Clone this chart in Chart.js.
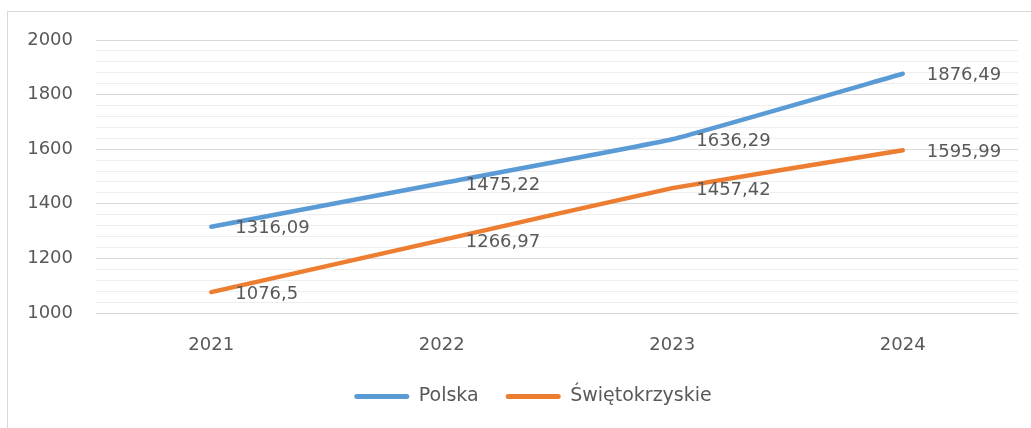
<!DOCTYPE html>
<html>
<head>
<meta charset="utf-8">
<script src="https://cdn.jsdelivr.net/npm/chart.js@4/dist/chart.umd.min.js"></script>
<style>
  html, body { margin: 0; padding: 0; background: #ffffff; overflow: hidden; width: 1031px; height: 428px; }
  #frame { position: absolute; left: 7px; top: 11px; width: 1040px; height: 440px; border: 1px solid #d9d9d9; }
  #wrap { position: absolute; left: 0; top: 0; width: 1023px; height: 416px; }
</style>
</head>
<body>
<div id="frame"><div id="wrap"><canvas id="c"></canvas></div></div>
<script>
const categories = ['2021', '2022', '2023', '2024'];
const polska = [1316.09, 1475.22, 1636.29, 1876.49];
const swietokrzyskie = [1076.5, 1266.97, 1457.42, 1595.99];
const seriesNames = ['Polska', 'Świętokrzyskie'];
const yMin = 1000, yMax = 2000, yMajor = 200, yMinor = 40;

const FONT = 'DejaVu Sans';
const TEXT = '#595959';

const valueLabels = {
  id: 'valueLabels',
  afterDatasetsDraw(chart) {
    const ctx = chart.ctx;
    ctx.save();
    ctx.font = '18px "' + FONT + '"';
    ctx.fillStyle = TEXT;
    ctx.textAlign = 'left';
    ctx.textBaseline = 'middle';
    chart.data.datasets.forEach((ds, i) => {
      const meta = chart.getDatasetMeta(i);
      meta.data.forEach((el, j) => {
        const txt = String(ds.data[j]).replace('.', ',');
        ctx.fillText(txt, el.x + 24, el.y + 2);
      });
    });
    ctx.restore();
  }
};

const legendShift = {
  id: 'legendShift',
  afterLayout(chart) {
    const lg = chart.legend;
    if (lg) { lg.left += 20; lg.right += 20; }
  }
};

new Chart(document.getElementById('c'), {
  type: 'line',
  data: {
    labels: categories,
    datasets: [
      { label: seriesNames[0], data: polska, borderColor: '#5b9bd5', backgroundColor: '#5b9bd5',
        borderWidth: 4.5, borderCapStyle: 'round', borderJoinStyle: 'round', pointRadius: 0, pointHoverRadius: 0, tension: 0.1, fill: false },
      { label: seriesNames[1], data: swietokrzyskie, borderColor: '#ed7d31', backgroundColor: '#ed7d31',
        borderWidth: 4.5, borderCapStyle: 'round', borderJoinStyle: 'round', pointRadius: 0, pointHoverRadius: 0, tension: 0.1, fill: false }
    ]
  },
  options: {
    responsive: true,
    maintainAspectRatio: false,
    animation: false,
    layout: { padding: { left: 0, right: 13, top: 28, bottom: 12 } },
    scales: {
      x: {
        offset: true,
        grid: { display: false, drawTicks: false },
        border: { display: false },
        ticks: { color: TEXT, font: { family: FONT, size: 18 }, padding: 22, maxRotation: 0 },
        afterFit(s) { s.height = 47; }
      },
      y: {
        min: yMin, max: yMax,
        grid: {
          drawTicks: false,
          color: (c) => (c.tick && Math.round(c.tick.value) % yMajor === 0) ? '#d9d9d9' : '#eeeeee',
          lineWidth: 1
        },
        border: { display: false },
        ticks: {
          stepSize: yMinor, autoSkip: false, color: TEXT, font: { family: FONT, size: 18 }, padding: 23,
          callback: (v) => (Math.round(v) % yMajor === 0) ? String(v) : ''
        },
        afterFit(s) { s.width = 88; s.paddingTop = 0; s.paddingBottom = 0; }
      }
    },
    plugins: {
      legend: {
        position: 'bottom',
        labels: {
          color: TEXT, font: { family: FONT, size: 19 }, boxWidth: 55, boxHeight: 5,
          useBorderRadius: true, borderRadius: 2.5, padding: 27,
          generateLabels(chart) {
            return Chart.defaults.plugins.legend.labels.generateLabels(chart).map(it => { it.lineWidth = 0; return it; });
          }
        }
      },
      tooltip: { enabled: false },
      title: { display: false }
    }
  },
  plugins: [valueLabels, legendShift]
});
</script>
</body>
</html>
